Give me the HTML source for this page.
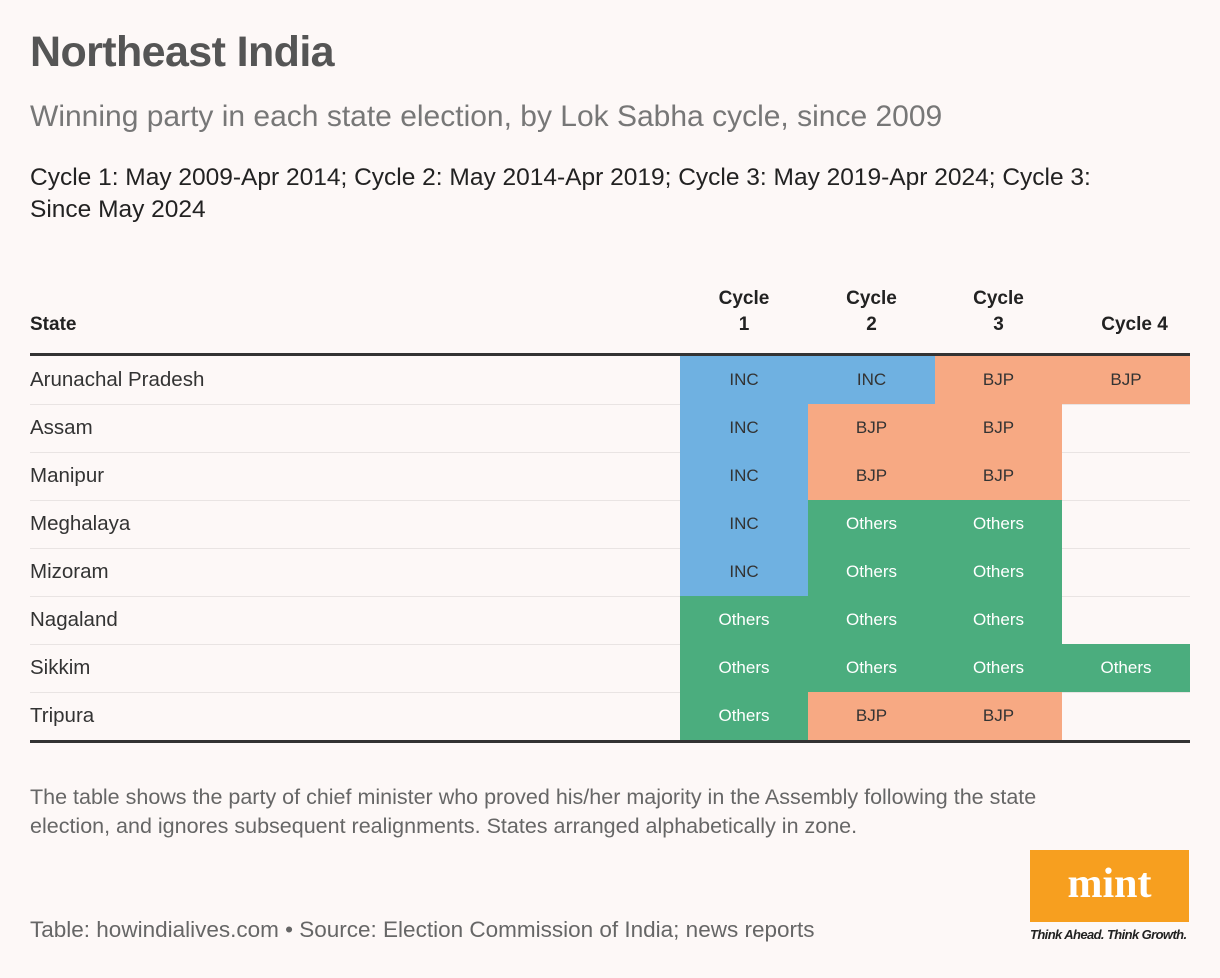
<!DOCTYPE html>
<html><head><meta charset="utf-8">
<style>
body{margin:0;width:1220px;height:978px;background:#fdf8f7;font-family:"Liberation Sans",sans-serif;position:relative;overflow:hidden;color:#333}
.a{position:absolute;white-space:nowrap}
.cell{position:absolute;height:48px;line-height:48px;text-align:center;font-size:17px;color:#333}
.sep{position:absolute;left:30px;width:1160px;height:1px;background:rgba(0,0,0,0.08)}
.st{position:absolute;left:30px;height:48px;line-height:48px;font-size:20.5px;color:#333}
.hd{position:absolute;font-weight:bold;font-size:19px;text-align:center;color:#222;line-height:26px}
</style></head><body>
<div class="a" style="left:30px;top:28px;font-size:43px;font-weight:bold;color:#555;letter-spacing:-0.6px">Northeast India</div>
<div class="a" style="left:30px;top:100px;font-size:30px;color:#777">Winning party in each state election, by Lok Sabha cycle, since 2009</div>
<div class="a" style="left:30px;top:162px;font-size:24.5px;color:#222;line-height:32px;white-space:normal;width:1110px">Cycle 1: May 2009-Apr 2014; Cycle 2: May 2014-Apr 2019; Cycle 3: May 2019-Apr 2024; Cycle 3: Since May 2024</div>
<div class="hd" style="left:30px;top:312px;text-align:left">State</div>
<div class="hd" style="left:680px;top:286px;width:128px">Cycle<br>1</div>
<div class="hd" style="left:808px;top:286px;width:127px">Cycle<br>2</div>
<div class="hd" style="left:935px;top:286px;width:127px">Cycle<br>3</div>
<div class="hd" style="left:1062px;top:312px;width:145px">Cycle 4</div>
<div class="a" style="left:30px;top:353px;width:1160px;height:3px;background:#333"></div>
<div id="tbl"></div>
<div class="a" style="left:30px;top:740px;width:1160px;height:3px;background:#333"></div>
<div class="a" style="left:30px;top:783px;font-size:21.5px;color:#666;line-height:29px;white-space:normal;width:1080px">The table shows the party of chief minister who proved his/her majority in the Assembly following the state election, and ignores subsequent realignments. States arranged alphabetically in zone.</div>
<div class="a" style="left:30px;top:917px;font-size:22.5px;color:#666">Table: howindialives.com • Source: Election Commission of India; news reports</div>
<div class="a" style="left:1030px;top:850px;width:159px;height:72px;background:#f79f1f;color:#fff;font-family:'Liberation Serif',serif;font-weight:bold;font-size:42px;text-align:center;line-height:68px">mint</div>
<div class="a" style="left:1030px;top:927px;font-size:13px;font-style:italic;font-weight:bold;color:#222;letter-spacing:-0.6px">Think Ahead. Think Growth.</div>
<script>
const states=["Arunachal Pradesh","Assam","Manipur","Meghalaya","Mizoram","Nagaland","Sikkim","Tripura"];
const cycle1=["INC","INC","INC","INC","INC","Others","Others","Others"];
const cycle2=["INC","BJP","BJP","Others","Others","Others","Others","BJP"];
const cycle3=["BJP","BJP","BJP","Others","Others","Others","Others","BJP"];
const cycle4=["BJP","","","","","","Others",""];
const colors={INC:"#6fb1e1",BJP:"#f7a983",Others:"#4bad7e"};
const colX=[680,808,935,1062],colW=[128,127,127,128];
const tbl=document.getElementById('tbl');
const cycles=[cycle1,cycle2,cycle3,cycle4];
states.forEach((s,i)=>{
 const y=356+i*48;
 const st=document.createElement('div');st.className='st';st.style.top=y+'px';st.textContent=s;
 
 
 tbl.appendChild(st);
 cycles.forEach((c,j)=>{
  const v=c[i];if(!v)return;
  const d=document.createElement('div');d.className='cell';
  d.style.left=colX[j]+'px';d.style.top=y+'px';d.style.width=colW[j]+'px';
  d.style.background=colors[v];if(v==='Others')d.style.color='#fff';
  d.textContent=v;
  
  
  tbl.appendChild(d);
 });
 if(i<states.length-1){
  const l=document.createElement('div');l.className='sep';l.style.top=(y+48)+'px';
  
  
  tbl.appendChild(l);
 }
});
</script>
</body></html>
